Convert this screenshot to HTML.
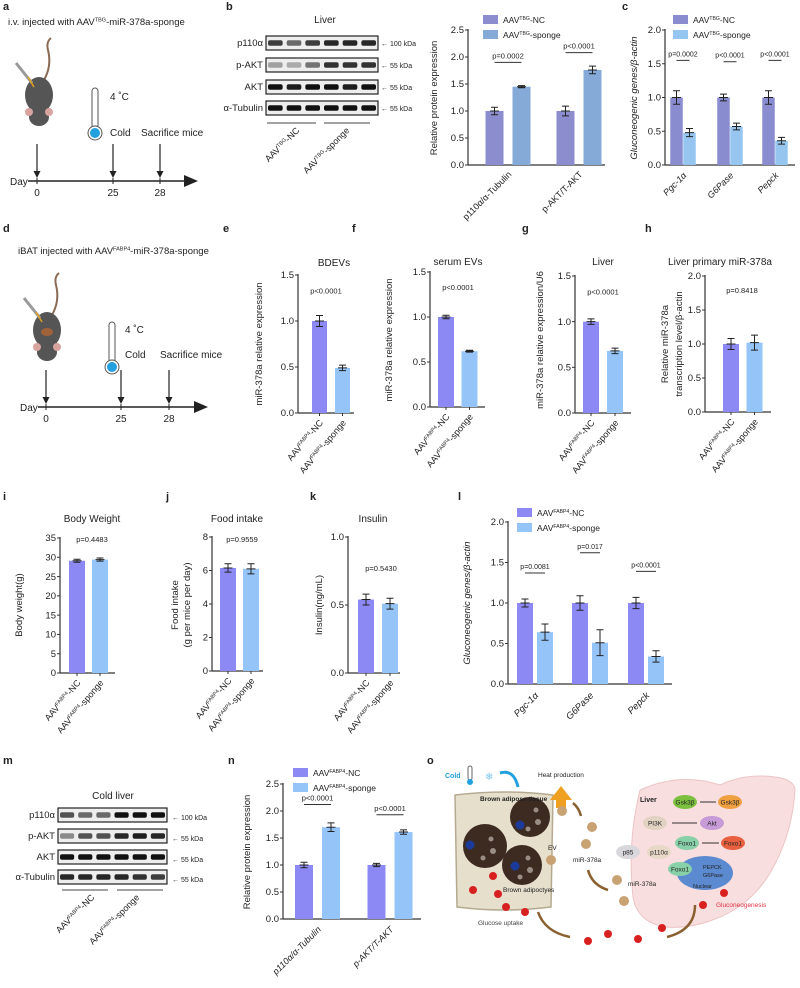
<!DOCTYPE html>
<html><head><meta charset="utf-8">
<style>
html,body{margin:0;padding:0;background:#fff;}
svg{display:block;font-family:"Liberation Sans",Arial,sans-serif;}
</style></head>
<body>
<svg id="fig" width="800" height="988" viewBox="0 0 800 988" xmlns="http://www.w3.org/2000/svg">
</svg>
<script>
// ---------- data ----------
const bCats = ["p110α/α-Tubulin", "p-AKT/T-AKT"];
const bNC = [1.0, 1.0];
const bNCErr = [0.07, 0.09];
const bSp = [1.45, 1.76];
const bSpErr = [0.02, 0.07];
const bP = ["p=0.0002", "p<0.0001"];
const bPY = [1.9, 2.08];

const cCats = ["Pgc-1α", "G6Pase", "Pepck"];
const cNC = [1.0, 1.0, 1.0];
const cNCErr = [0.1, 0.05, 0.1];
const cSp = [0.48, 0.57, 0.36];
const cSpErr = [0.06, 0.05, 0.05];
const cP = ["p=0.0002", "p<0.0001", "p<0.0001"];
const cPY = [1.55, 1.53, 1.55];

const eVals = [1.0, 0.49];   const eErr = [0.06, 0.03];
const fVals = [1.0, 0.62];   const fErr = [0.02, 0.01];
const gVals = [1.0, 0.68];   const gErr = [0.03, 0.03];
const hVals = [1.0, 1.02];   const hErr = [0.08, 0.11];
const iVals = [29.1, 29.4];  const iErr = [0.4, 0.4];
const jVals = [6.15, 6.1];   const jErr = [0.25, 0.3];
const kVals = [0.54, 0.51];  const kErr = [0.04, 0.04];

const lCats = ["Pgc-1α", "G6Pase", "Pepck"];
const lNC = [1.0, 1.0, 1.0];
const lNCErr = [0.05, 0.09, 0.07];
const lSp = [0.64, 0.51, 0.34];
const lSpErr = [0.1, 0.16, 0.07];
const lP = ["p=0.0081", "p=0.017", "p<0.0001"];
const lPY = [1.37, 1.62, 1.39];

const nCats = ["p110α/α-Tubulin", "p-AKT/T-AKT"];
const nNC = [1.0, 1.0];
const nNCErr = [0.05, 0.03];
const nSp = [1.7, 1.61];
const nSpErr = [0.08, 0.04];
const nP = ["p<0.0001", "p<0.0001"];
const nPY = [2.12, 1.93];

// ---------- helpers ----------
const NS = "http://www.w3.org/2000/svg";
const svg = document.getElementById("fig");
function el(tag, attrs, parent, txt) {
  const e = document.createElementNS(NS, tag);
  for (const k in attrs) e.setAttribute(k, attrs[k]);
  if (txt !== undefined) e.textContent = txt;
  (parent || svg).appendChild(e);
  return e;
}
function grp(name, parent) {
  const g = document.createElementNS(NS, "g");
  
  
  (parent || svg).appendChild(g);
  return g;
}
function text(parent, x, y, s, size, opts) {
  opts = opts || {};
  const t = el("text", {x: x, y: y, "font-size": size, fill: opts.fill || "#222",
    "text-anchor": opts.anchor || "start", "font-style": opts.italic ? "italic" : "normal",
    "font-weight": opts.bold ? "bold" : "normal"}, parent, s);
  if (opts.rot !== undefined) t.setAttribute("transform", "rotate(" + opts.rot + " " + x + " " + y + ")");
  
  
  return t;
}
function aavLabel(parent, x, y, sup, suffix, size, rot, anchor, name) {
  const t = el("text", {x: x, y: y, "font-size": size, fill: "#222", "text-anchor": anchor || "end"}, parent);
  if (rot !== undefined) t.setAttribute("transform", "rotate(" + rot + " " + x + " " + y + ")");
  
  
  el("tspan", {}, t, "AAV");
  el("tspan", {"font-size": size * 0.6, dy: -size * 0.35}, t, sup);
  el("tspan", {dy: size * 0.35}, t, suffix);
  return t;
}
function panelLetter(x, y, s) {
  text(svg, x, y, s, 11, {bold: true, name: 'panel-letter-' + s});
}

function barChart(o) {
  const g = grp(o.name);
  const ys = v => o.y0 - (v / o.max) * (o.y0 - o.ytop);
  const yl = el("line", {x1: o.x0, y1: o.ytop - 1, x2: o.x0, y2: o.y0, stroke: "#333", "stroke-width": 1.2}, g);
   
  const xl = el("line", {x1: o.x0, y1: o.y0, x2: o.xEnd, y2: o.y0, stroke: "#333", "stroke-width": 1.2}, g);
   
  for (let i = 0; i < o.ticks.length; i++) {
    const v = o.ticks[i], y = ys(v);
    el("line", {x1: o.x0 - 3, y1: y, x2: o.x0, y2: y, stroke: "#333", "stroke-width": 1}, g);
    text(g, o.x0 - 4, y + 3.2, o.tickLabels[i], o.tickSize || 9, {anchor: "end", name: 'y-tick-label'});
  }
  o.series.forEach((s, si) => {
    s.vals.forEach((v, ci) => {
      const cx = o.centers[ci] + o.offsets[si];
      const r = el("rect", {x: cx - o.bw / 2, y: ys(v), width: o.bw, height: o.y0 - ys(v), fill: s.color}, g);
      
      
      const e = s.err[ci];
      const eh = el("path", {d: "M" + cx + " " + ys(v + e) + "V" + ys(v - e) +
        "M" + (cx - 3.5) + " " + ys(v + e) + "H" + (cx + 3.5) +
        "M" + (cx - 3.5) + " " + ys(v - e) + "H" + (cx + 3.5) +
        "M" + (cx - 4.5) + " " + ys(v) + "H" + (cx + 4.5),
        stroke: "#222", "stroke-width": 1, fill: "none"}, g);
      
      
      if (o.xticksPerBar) el("line", {x1: cx, y1: o.y0, x2: cx, y2: o.y0 + 3, stroke: "#333"}, g);
    });
  });
  if (o.pvals) {
    o.pvals.forEach((p, ci) => {
      const y = ys(o.pY[ci]);
      if (o.bracket) {
        const x1 = o.centers[ci] + o.offsets[0], x2 = o.centers[ci] + o.offsets[1];
        el("line", {x1: x1, y1: y, x2: x2, y2: y, stroke: "#333", "stroke-width": 1}, g);
        text(g, (x1 + x2) / 2, y - 4, p, o.pSize || 7.5, {anchor: "middle", name: 'p-value'});
      } else {
        text(g, o.pX, y, p, o.pSize || 7.5, {anchor: "middle", name: 'p-value'});
      }
    });
  }
  if (o.title) text(g, o.titleX, o.titleY, o.title, 10, {anchor: "middle", name: 'chart-title'});
  return {g: g, ys: ys};
}

const NC = "#8c89f5", SP = "#94c4f8";

// ---------- Panel a ----------
panelLetter(3, 10, "a");
function mouse(x, y, g, bat) {
  el("path", {d: `M${x+20} ${y+15} q8 -14 4 -30 q-2 -8 3 -12`, stroke: "#8a6a55", "stroke-width": 2, fill: "none"}, g);
  el("ellipse", {cx: x + 15, cy: y + 30, rx: 14, ry: 18, fill: "#555"}, g);
  el("ellipse", {cx: x + 15, cy: y + 52, rx: 10, ry: 9, fill: "#555"}, g);
  el("circle", {cx: x + 5, cy: y + 47, r: 4, fill: "#d9a3a0"}, g);
  el("circle", {cx: x + 25, cy: y + 47, r: 4, fill: "#d9a3a0"}, g);
  if (bat) el("ellipse", {cx: x + 15, cy: y + 32, rx: 6, ry: 4, fill: "#a0623a"}, g);
  el("line", {x1: x - 8, y1: y - 2, x2: x + 8, y2: y + 18, stroke: "#999", "stroke-width": 3}, g);
  el("line", {x1: x + 4, y1: y + 12, x2: x + 10, y2: y + 22, stroke: "#e0a020", "stroke-width": 1.5}, g);
}
function therm(x, y, g) {
  el("rect", {x: x - 3, y: y, width: 6, height: 40, rx: 3, fill: "#fff", stroke: "#555"}, g);
  el("circle", {cx: x, cy: y + 45, r: 7, fill: "#fff", stroke: "#555"}, g);
  el("circle", {cx: x, cy: y + 45, r: 5, fill: "#22a0e0"}, g);
}
function timeline(g, y, xs, x0) {
  el("line", {x1: x0 + 10, y1: y, x2: x0 + 170, y2: y, stroke: "#222", "stroke-width": 1.6}, g);
  el("path", {d: `M${x0+180} ${y} l-14 -6 v12z`, fill: "#222"}, g);
  text(g, x0 - 8, y + 4, "Day", 10, {name: 'day-label'});
  const lab = ["0", "25", "28"];
  xs.forEach((x, i) => {
    el("line", {x1: x, y1: y - 3, x2: x, y2: y + 3, stroke: "#222"}, g);
    el("line", {x1: x, y1: y - 37, x2: x, y2: y - 8, stroke: "#222", "stroke-width": 1.2}, g);
    el("path", {d: `M${x} ${y-3} l-3.5 -7 h7z`, fill: "#222"}, g);
    text(g, x, y + 15, lab[i], 10, {anchor: "middle", name: 'day-tick'});
  });
}
{
  const g = grp("panel-a-schematic");
  const t = el("text", {x: 8, y: 25, "font-size": 9.5, fill: "#222"}, g);
   
  el("tspan", {}, t, "i.v. injected with AAV");
  el("tspan", {"font-size": 5.5, dy: -3.5}, t, "TBG");
  el("tspan", {dy: 3.5}, t, "-miR-378a-sponge");
  mouse(24, 65, g, false);
  therm(95, 88, g);
  text(g, 110, 100, "4 ˚C", 10, {name: 'temp-label'});
  text(g, 110, 136, "Cold", 10, {name: 'cold-label'});
  text(g, 141, 136, "Sacrifice mice", 10, {name: 'sacrifice-label'});
  timeline(g, 181, [37, 113, 160], 18);
}
panelLetter(3, 232, "d");
{
  const g = grp("panel-d-schematic");
  const t = el("text", {x: 18, y: 254, "font-size": 9.5, fill: "#222"}, g);
   
  el("tspan", {}, t, "iBAT injected with AAV");
  el("tspan", {"font-size": 5.5, dy: -3.5}, t, "FABP4");
  el("tspan", {dy: 3.5}, t, "-miR-378a-sponge");
  mouse(32, 300, g, true);
  therm(112, 322, g);
  text(g, 125, 333, "4 ˚C", 10, {name: 'temp-label'});
  text(g, 125, 358, "Cold", 10, {name: 'cold-label'});
  text(g, 160, 358, "Sacrifice mice", 10, {name: 'sacrifice-label'});
  timeline(g, 407, [46, 121, 169], 28);
}

function blot(g, x, y, w, h, intens, name) {
  const r = el("rect", {x: x, y: y, width: w, height: h, fill: "#eee", stroke: "#222", "stroke-width": 1.2}, g);
   
  const lw = w / 6;
  intens.forEach((a, i) => {
    el("rect", {x: x + i * lw + 2, y: y + h / 2 - h * 0.2, width: lw - 4, height: h * 0.4, rx: 2,
      fill: "#111", opacity: a}, g);
  });
}
panelLetter(226, 10, "b");
{
  const g = grp("panel-b-western-blot");
  text(g, 325, 23, "Liver", 10, {anchor: "middle", name: 'blot-title'});
  const rows = [["p110α", 36, [0.8, 0.6, 0.8, 0.9, 0.9, 0.9], "← 100 kDa"],
                ["p-AKT", 58, [0.35, 0.3, 0.55, 0.85, 0.85, 0.85], "← 55 kDa"],
                ["AKT", 80, [1, 0.95, 1, 1, 0.95, 1], "← 55 kDa"],
                ["α-Tubulin", 101, [1, 1, 1, 1, 1, 1], "← 55 kDa"]];
  rows.forEach(r => {
    text(g, 263, r[1] + 10, r[0], 9.5, {anchor: "end", name: 'blot-row-label'});
    blot(g, 266, r[1], 112, 14, r[2], 'blot-' + r[0]);
    text(g, 381, r[1] + 10, r[3], 7, {name: 'kda-label'});
  });
  el("line", {x1: 267, y1: 123, x2: 316, y2: 123, stroke: "#444"}, g);
  el("line", {x1: 324, y1: 123, x2: 370, y2: 123, stroke: "#444"}, g);
  aavLabel(g, 300, 131, "TBG", "-NC", 9, -45, "end");
  aavLabel(g, 350, 131, "TBG", "-sponge", 9, -45, "end");
}
panelLetter(3, 764, "m");
{
  const g = grp("panel-m-western-blot");
  text(g, 113, 799, "Cold liver", 10, {anchor: "middle", name: 'blot-title'});
  const rows = [["p110α", 808, [0.7, 0.6, 0.6, 1, 1, 1], "← 100 kDa"],
                ["p-AKT", 829, [0.45, 0.7, 0.7, 0.9, 0.95, 0.9], "← 55 kDa"],
                ["AKT", 850, [1, 1, 1, 1, 1, 1], "← 55 kDa"],
                ["α-Tubulin", 870, [0.9, 0.9, 0.9, 0.9, 0.85, 0.8], "← 55 kDa"]];
  rows.forEach(r => {
    text(g, 55, r[1] + 10, r[0], 9.5, {anchor: "end", name: 'blot-row-label'});
    blot(g, 58, r[1], 109, 14, r[2], 'blot-' + r[0]);
    text(g, 172, r[1] + 12, r[3], 7, {name: 'kda-label'});
  });
  el("line", {x1: 62, y1: 890, x2: 108, y2: 890, stroke: "#444"}, g);
  el("line", {x1: 117, y1: 890, x2: 163, y2: 890, stroke: "#444"}, g);
  aavLabel(g, 95, 898, "FABP4", "-NC", 9, -45, "end");
  aavLabel(g, 140, 898, "FABP4", "-sponge", 9, -45, "end");
}

function legend(name, x, y, c1, c2, sup, size) {
  const g = grp(name);
  [[c1, "-NC"], [c2, "-sponge"]].forEach((it, i) => {
    const yy = y + i * 15;
    const r = el("rect", {x: x, y: yy - 7, width: 15, height: 9, fill: it[0]}, g);
     
    aavLabel(g, x + 20, yy + 1, sup, it[1], size || 8.5, undefined, "start", 'legend-entry');
  });
}
function grpXLabels(g, centers, y, labels, italic, size) {
  labels.forEach((l, i) => {
    text(g, centers[i] + 4, y, l, size || 9, {anchor: "end", rot: -45, italic: italic, name: 'x-category-label'});
  });
}
function yTitle(g, x, y, s, size, italic) {
  text(g, x, y, s, size || 9.5, {anchor: "middle", rot: -90, italic: italic, name: 'y-axis-title'});
}

{
  const ch = barChart({name: "panel-b-chart", x0: 468, y0: 165, ytop: 30, xEnd: 605, max: 2.5,
    ticks: [0, 0.5, 1, 1.5, 2, 2.5], tickLabels: ["0.0", "0.5", "1.0", "1.5", "2.0", "2.5"], tickSize: 9.5,
    centers: [508, 579], offsets: [-13.5, 13.5], bw: 18,
    series: [{key: "nc", vals: bNC, err: bNCErr, color: "#8b8dcf"}, {key: "sponge", vals: bSp, err: bSpErr, color: "#85aad8"}],
    pvals: bP, pY: bPY, bracket: true});
  yTitle(ch.g, 437, 98, "Relative protein expression", 9.5);
  grpXLabels(ch.g, [508, 579], 175, bCats, false, 9);
  legend("panel-b-legend", 483, 22, "#8b8dcf", "#85aad8", "TBG");
}
panelLetter(622, 10, "c");
{
  const ch = barChart({name: "panel-c-chart", x0: 665, y0: 165, ytop: 30, xEnd: 795, max: 2,
    ticks: [0, 0.5, 1, 1.5, 2], tickLabels: ["0.0", "0.5", "1.0", "1.5", "2.0"], tickSize: 9.5,
    centers: [683, 730, 775], offsets: [-6.5, 6.5], bw: 12.5,
    series: [{key: "nc", vals: cNC, err: cNCErr, color: "#8a8cd0"}, {key: "sponge", vals: cSp, err: cSpErr, color: "#96c6f0"}],
    pvals: cP, pY: cPY, bracket: true, pSize: 7});
  yTitle(ch.g, 637, 98, "Gluconeogenic genes/β-actin", 9.5, true);
  grpXLabels(ch.g, [683, 730, 775], 176, cCats, true, 9);
  legend("panel-c-legend", 673, 22, "#8a8cd0", "#96c6f0", "TBG");
}

function twoBar(name, o, vals, err) {
  const ch = barChart(Object.assign({name: name, offsets: [0], bw: o.bw || 15,
    series: [{key: "values", vals: vals, err: err, color: NC}], xticksPerBar: true}, o));
  const bars = ch.g.querySelectorAll("rect");
  if (bars[1]) bars[1].setAttribute("fill", SP);
  aavLabel(ch.g, o.centers[0] + 4, o.y0 + 10, "FABP4", "-NC", 9, -50, "end");
  aavLabel(ch.g, o.centers[1] + 4, o.y0 + 10, "FABP4", "-sponge", 9, -50, "end");
  return ch;
}
panelLetter(223, 232, "e");
{
  const ch = twoBar("panel-e-chart", {x0: 298, y0: 413, ytop: 275, xEnd: 354, max: 1.5,
    ticks: [0, 0.5, 1, 1.5], tickLabels: ["0.0", "0.5", "1.0", "1.5"], tickSize: 9.5,
    centers: [319.5, 342.5], pvals: ["p<0.0001"], pY: [1.3], pX: 326, title: "BDEVs", titleX: 334, titleY: 266}, eVals, eErr);
  yTitle(ch.g, 262, 344, "miR-378a relative expression", 9.5);
}
panelLetter(352, 232, "f");
{
  const ch = twoBar("panel-f-chart", {x0: 430, y0: 407, ytop: 272, xEnd: 485, max: 1.5,
    ticks: [0, 0.5, 1, 1.5], tickLabels: ["0.0", "0.5", "1.0", "1.5"], tickSize: 9.5, bw: 16,
    centers: [446, 469.5], pvals: ["p<0.0001"], pY: [1.3], pX: 458, title: "serum EVs", titleX: 458, titleY: 265}, fVals, fErr);
  yTitle(ch.g, 392, 340, "miR-378a relative expression", 9.5);
}
panelLetter(522, 232, "g");
{
  const ch = twoBar("panel-g-chart", {x0: 575, y0: 413, ytop: 276, xEnd: 631, max: 1.5,
    ticks: [0, 0.5, 1, 1.5], tickLabels: ["0.0", "0.5", "1.0", "1.5"], tickSize: 9.5, bw: 16,
    centers: [591, 615], pvals: ["p<0.0001"], pY: [1.3], pX: 603, title: "Liver", titleX: 603, titleY: 265}, gVals, gErr);
  yTitle(ch.g, 543, 340, "miR-378a relative expression/U6", 9.5);
}
panelLetter(645, 232, "h");
{
  const ch = twoBar("panel-h-chart", {x0: 705, y0: 412, ytop: 276, xEnd: 771, max: 2,
    ticks: [0, 0.5, 1, 1.5, 2], tickLabels: ["0.0", "0.5", "1.0", "1.5", "2.0"], tickSize: 9.5, bw: 16,
    centers: [731, 754.5], pvals: ["p=0.8418"], pY: [1.75], pX: 742, title: "Liver primary miR-378a", titleX: 720, titleY: 265}, hVals, hErr);
  yTitle(ch.g, 668, 344, "Relative  miR-378a", 9.5);
  yTitle(ch.g, 682, 344, "transcription level/β-actin", 9.5);
}
panelLetter(3, 500, "i");
{
  const ch = twoBar("panel-i-chart", {x0: 60, y0: 673, ytop: 538, xEnd: 115, max: 35,
    ticks: [0, 5, 10, 15, 20, 25, 30, 35], tickLabels: ["0", "5", "10", "15", "20", "25", "30", "35"], tickSize: 9.5, bw: 16,
    centers: [77, 100], pvals: ["p=0.4483"], pY: [34], pX: 92, title: "Body Weight", titleX: 92, titleY: 522}, iVals, iErr);
  yTitle(ch.g, 22, 605, "Body weight(g)", 9.5);
}
panelLetter(166, 500, "j");
{
  const ch = twoBar("panel-j-chart", {x0: 212, y0: 671, ytop: 537, xEnd: 263, max: 8,
    ticks: [0, 2, 4, 6, 8], tickLabels: ["0", "2", "4", "6", "8"], tickSize: 9.5, bw: 16,
    centers: [228, 251], pvals: ["p=0.9559"], pY: [7.7], pX: 242, title: "Food intake", titleX: 237, titleY: 522}, jVals, jErr);
  yTitle(ch.g, 178, 605, "Food intake", 9.5);
  yTitle(ch.g, 190, 605, "(g per mice per day)", 9.5);
}
panelLetter(310, 500, "k");
{
  const ch = twoBar("panel-k-chart", {x0: 348, y0: 673, ytop: 537, xEnd: 400, max: 1,
    ticks: [0, 0.5, 1], tickLabels: ["0.0", "0.5", "1.0"], tickSize: 9.5, bw: 16,
    centers: [366, 390], pvals: ["p=0.5430"], pY: [0.75], pX: 381, title: "Insulin", titleX: 373, titleY: 522}, kVals, kErr);
  yTitle(ch.g, 322, 605, "Insulin(ng/mL)", 9.5);
}
panelLetter(458, 500, "l");
{
  const ch = barChart({name: "panel-l-chart", x0: 508, y0: 684, ytop: 522, xEnd: 672, max: 2,
    ticks: [0, 0.5, 1, 1.5, 2], tickLabels: ["0.0", "0.5", "1.0", "1.5", "2.0"], tickSize: 9.5,
    centers: [535, 590, 646], offsets: [-10, 10], bw: 16,
    series: [{key: "nc", vals: lNC, err: lNCErr, color: NC}, {key: "sponge", vals: lSp, err: lSpErr, color: SP}],
    pvals: lP, pY: lPY, bracket: true, pSize: 7});
  yTitle(ch.g, 470, 603, "Gluconeogenic genes/β-actin", 9.5, true);
  grpXLabels(ch.g, [535, 590, 646], 696, lCats, true, 9.5);
  legend("panel-l-legend", 517, 515, NC, SP, "FABP4");
}
panelLetter(228, 764, "n");
{
  const ch = barChart({name: "panel-n-chart", x0: 283, y0: 919, ytop: 784, xEnd: 421, max: 2.5,
    ticks: [0, 0.5, 1, 1.5, 2, 2.5], tickLabels: ["0.0", "0.5", "1.0", "1.5", "2.0", "2.5"], tickSize: 9.5,
    centers: [317.5, 390], offsets: [-13.5, 13.5], bw: 18,
    series: [{key: "nc", vals: nNC, err: nNCErr, color: NC}, {key: "sponge", vals: nSp, err: nSpErr, color: SP}],
    pvals: nP, pY: nPY, bracket: true, pSize: 7.5});
  yTitle(ch.g, 250, 852, "Relative protein expression", 9.5);
  grpXLabels(ch.g, [317.5, 390], 930, nCats, true, 9);
  legend("panel-n-legend", 293, 775, NC, SP, "FABP4");
}

// ---------- Panel o schematic ----------
panelLetter(427, 764, "o");
{
  const g = grp("panel-o-schematic");
  // liver
  el("path", {d: "M640 790 q40 -18 80 -5 q25 -12 55 -8 q18 2 20 12 q-2 40 -20 75 q-20 40 -60 55 q-25 10 -50 8 q-28 -5 -32 -30 q-6 -55 7 -107z",
    fill: "#f8dede", stroke: "#ecc4c4"}, g);
  // BAT box
  el("path", {d: "M455 795 q50 -6 98 0 l-2 112 q-48 6 -94 0z", fill: "#e6dfcc", stroke: "#b5aa90", "stroke-width": 1.5}, g);
  [[485, 846, 22, 470, 845], [530, 817, 20, 520, 825], [522, 865, 20, 515, 866]].forEach(c => {
    el("circle", {cx: c[0], cy: c[1], r: c[2], fill: "#3d2b22"}, g);
    el("circle", {cx: c[3], cy: c[4], r: 4.5, fill: "#1c3a9a"}, g);
    el("circle", {cx: c[0] + 6, cy: c[1] - 7, r: 2.5, fill: "#9a8d85"}, g);
    el("circle", {cx: c[0] + 8, cy: c[1] + 5, r: 3, fill: "#9a8d85"}, g);
    el("circle", {cx: c[0] - 2, cy: c[1] + 12, r: 2.5, fill: "#9a8d85"}, g);
  });
  text(g, 480, 801, "Brown adipose tissue", 6.5, {bold: true, name: 'bat-label'});
  text(g, 503, 892, "Brown adipoctyes", 6.5, {name: 'adipocytes-label'});
  text(g, 548, 850, "EV", 6.5, {name: 'ev-label'});
  text(g, 445, 778, "Cold", 7, {fill: "#22a0e0", bold: true, name: 'cold-label'});
  el("rect", {x: 468, y: 766, width: 4, height: 14, rx: 2, fill: "#fff", stroke: "#666"}, g);
  el("circle", {cx: 470, cy: 782, r: 3, fill: "#22a0e0"}, g);
  text(g, 485, 780, "❄", 10, {fill: "#7cc8f0", name: 'snowflake-icon'});
  el("path", {d: "M500 773 q14 -4 18 14", stroke: "#22a0e0", "stroke-width": 3, fill: "none"}, g);
  el("path", {d: "M550 800 l11 -14 l11 14 h-6 v8 h-10 v-8z", fill: "#f0a020"}, g);
  text(g, 538, 777, "Heat production", 6.5, {name: 'heat-label'});
  text(g, 478, 925, "Glucose uptake", 6.5, {fill: "#444", name: 'glucose-uptake-label'});
  text(g, 573, 862, "miR-378a", 6.5, {name: 'mir-label'});
  text(g, 628, 886, "miR-378a", 6.5, {name: 'mir-label-2'});
  [[562, 811], [592, 827], [586, 844], [551, 860], [617, 880], [624, 901]].forEach(p => {
    el("circle", {cx: p[0], cy: p[1], r: 5, fill: "#c9a274"}, g);
  });
  text(g, 640, 802, "Liver", 7, {bold: true, name: 'liver-label'});
  el("ellipse", {cx: 705, cy: 873, rx: 28, ry: 17, fill: "#5b8ad0"}, g);
  [["Gsk3β", 685, 802, "#7cc040"], ["PI3K", 655, 823, "#e2d2c2"], ["Akt", 712, 823, "#c79ad8"], ["Foxo1", 687, 843, "#88d0a8"],
   ["p85", 628, 852, "#d8d8dc"], ["p110α", 659, 852, "#e8d8c6"], ["Foxo1", 680, 869, "#88d0a8"], ["Gsk3β", 730, 802, "#f0a040"], ["Foxo1", 733, 843, "#e86040"]].forEach(n => {
    el("ellipse", {cx: n[1], cy: n[2], rx: 12, ry: 7, fill: n[3]}, g);
    text(g, n[1], n[2] + 2.5, n[0], 6.5, {anchor: "middle", name: 'node-label'});
  });
  el("line", {x1: 672, y1: 823, x2: 697, y2: 823, stroke: "#333"}, g);
  el("line", {x1: 700, y1: 802, x2: 716, y2: 802, stroke: "#333"}, g);
  el("line", {x1: 702, y1: 843, x2: 719, y2: 843, stroke: "#333"}, g);
  text(g, 703, 869, "PEPCK", 5.5, {name: 'pepck-label'});
  text(g, 703, 877, "G6Pase", 5.5, {name: 'g6pase-label'});
  text(g, 693, 888, "Nuclear", 5.5, {name: 'nuclear-label'});
  text(g, 716, 907, "Gluconeogenesis", 6.5, {fill: "#e03040", name: 'gluconeogenesis-label'});
  [[493, 876], [473, 890], [498, 894], [506, 907], [525, 912], [588, 941], [608, 934], [638, 939], [662, 928], [703, 905], [724, 893]].forEach(p => {
    el("circle", {cx: p[0], cy: p[1], r: 4, fill: "#d82020"}, g);
  });
  el("path", {d: "M570 937 q-25 -5 -32 -25", stroke: "#8a6030", "stroke-width": 2.5, fill: "none"}, g);
  el("path", {d: "M695 905 q0 25 -28 32", stroke: "#8a6030", "stroke-width": 2.5, fill: "none"}, g);
  el("path", {d: "M573 803 q6 5 8 13", stroke: "#8a6030", "stroke-width": 2.5, fill: "none"}, g);
  el("path", {d: "M588 870 q4 15 20 20", stroke: "#8a6030", "stroke-width": 2.5, fill: "none"}, g);
}
</script>
</body></html>
